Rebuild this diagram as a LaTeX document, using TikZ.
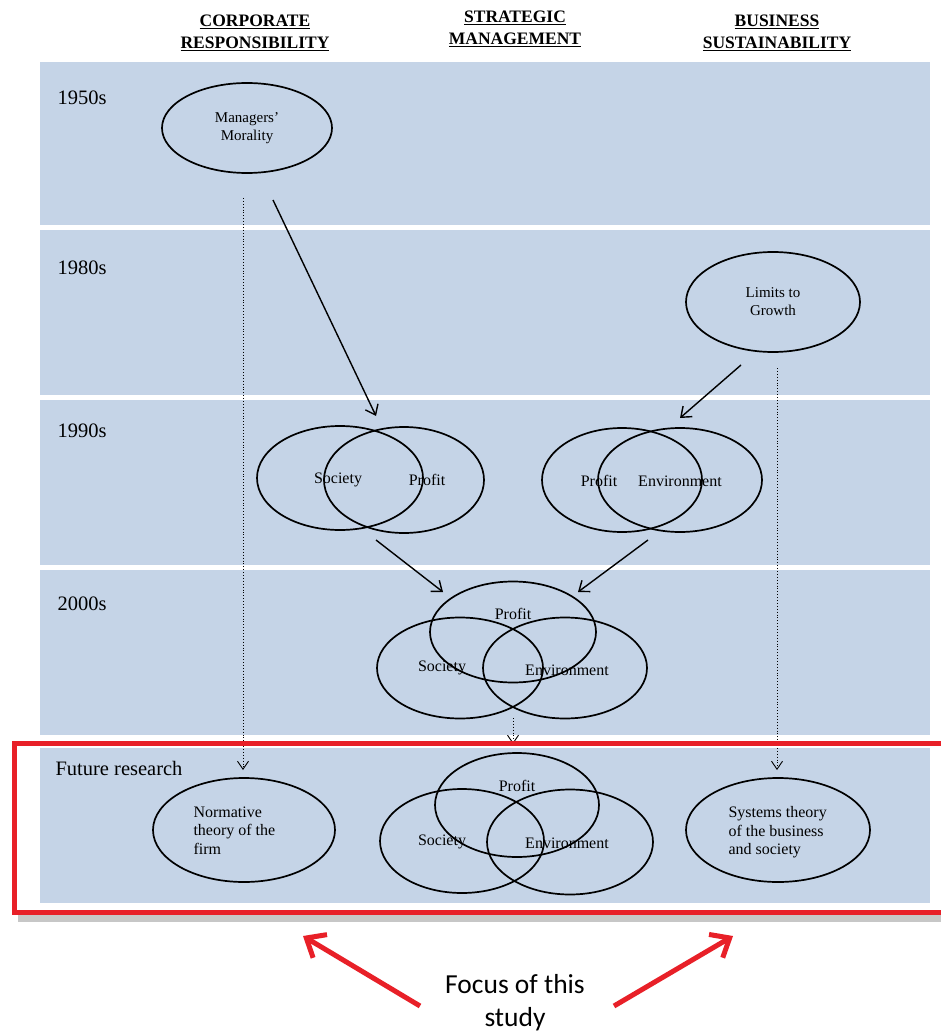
\documentclass[tikz,border=0pt]{standalone}
\usepackage{fontspec}
\setmainfont{Liberation Serif}
\newfontfamily\notefont{Carlito}
\usetikzlibrary{shapes.geometric,arrows.meta}
\definecolor{band}{RGB}{197,212,231}
\definecolor{focusred}{RGB}{232,32,40}
\begin{document}
\begin{tikzpicture}[x=1pt,y=-1pt,
  bandbox/.style={fill=band,draw=none},
  oval/.style={ellipse,draw=black,line width=1.7pt,inner sep=0pt},
  era/.style={anchor=west,font=\fontsize{20.5}{22}\selectfont},
  head/.style={align=center,font=\bfseries\fontsize{17.5}{22}\selectfont},
  lbl/.style={font=\fontsize{16}{18}\selectfont},
  note/.style={align=left,font=\fontsize{16}{18.5}\selectfont},
  flow/.style={line width=1.4pt,-{Straight Barb[length=9pt,width=14pt]}},
  trace/.style={line width=0.9pt,dotted,-{Straight Barb[length=8pt,width=11pt,line width=0.9pt]}},
  focus/.style={draw=focusred,line width=5pt,-{Straight Barb[length=16pt,width=27pt,line width=5pt]}}
]
\useasboundingbox (0,0) rectangle (941,1032);
\fill[white] (0,0) rectangle (941,1032);

% column headings
\node[head] (hcr) at (255,33) {\underline{CORPORATE}\\\underline{RESPONSIBILITY}};
\node[head] (hsm) at (515,29) {\underline{STRATEGIC}\\\underline{MANAGEMENT}};
\node[head] (hbs) at (777,33) {\underline{BUSINESS}\\\underline{SUSTAINABILITY}};

% shadow under the highlight frame
\fill[black!22] (18,912) rectangle (941,922);

% decade bands
\fill[bandbox] (40,62) rectangle (930,225);
\fill[bandbox] (40,230) rectangle (930,395);
\fill[bandbox] (40,400) rectangle (930,565);
\fill[bandbox] (40,570) rectangle (930,735);
\fill[bandbox] (40,748) rectangle (930,903);

\node[era] (e50) at (54,98) {1950s};
\node[era] (e80) at (54,268) {1980s};
\node[era] (e90) at (54,431) {1990s};
\node[era] (e00) at (54,604) {2000s};
\node[era] (efr) at (52,768) {Future research};

% 1950s / 1980s
\node[oval,minimum width=170pt,minimum height=90pt,align=center,font=\fontsize{15}{18}\selectfont] (mm) at (247,128) {Managers'\\Morality};
\node[oval,minimum width=174pt,minimum height=100pt,align=center,font=\fontsize{15}{18}\selectfont] (lg) at (773,302) {Limits to\\Growth};

% 1990s pairs
\node[oval,minimum width=166pt,minimum height=104pt] (sp1) at (340,478) {};
\node[oval,minimum width=160pt,minimum height=106pt] (sp2) at (404,480) {};
\node[lbl] (tsoc1) at (338,480) {Society};
\node[lbl] (tpro1) at (427,480) {Profit};

\node[oval,minimum width=160pt,minimum height=104pt] (pe1) at (622,480) {};
\node[oval,minimum width=164pt,minimum height=104pt] (pe2) at (680,480) {};
\node[lbl] (tpro2) at (599,481) {Profit};
\node[lbl] (tenv2) at (680,481) {Environment};

% 2000s triple
\node[oval,minimum width=166pt,minimum height=101pt] (tp) at (513,632) {};
\node[oval,minimum width=166pt,minimum height=101pt] (ts) at (460,668) {};
\node[oval,minimum width=164pt,minimum height=101pt] (te) at (565,668) {};
\node[lbl] (tpro3) at (513,614) {Profit};
\node[lbl] (tsoc3) at (442,668) {Society};
\node[lbl] (tenv3) at (567,670) {Environment};

% future research
\node[oval,minimum width=182pt,minimum height=104pt] (nt) at (244,830) {};
\node[note,anchor=north west] (ntt) at (190,803) {Normative\\theory of the\\firm};
\node[oval,minimum width=184pt,minimum height=104pt] (st) at (778,830) {};
\node[note,anchor=north west] (stt) at (725,803) {Systems theory\\of the business\\and society};

\node[oval,minimum width=164pt,minimum height=104pt] (fp) at (517,805) {};
\node[oval,minimum width=164pt,minimum height=104pt] (fs) at (462,841) {};
\node[oval,minimum width=166pt,minimum height=105pt] (fe) at (570,842) {};
\node[lbl] (tpro4) at (517,786) {Profit};
\node[lbl] (tsoc4) at (442,842) {Society};
\node[lbl] (tenv4) at (567,843) {Environment};

% connectors
\coordinate (a1) at (273,200);
\coordinate (a1e) at (376,416);
\coordinate (a2) at (741,365);
\coordinate (a2e) at (680,418);
\coordinate (a3) at (376,540);
\coordinate (a3e) at (443,592);
\coordinate (a4) at (648,540);
\coordinate (a4e) at (578,592);
\draw[flow] (a1) -- (a1e);
\draw[flow] (a2) -- (a2e);
\draw[flow] (a3) -- (a3e);
\draw[flow] (a4) -- (a4e);

\coordinate (d1) at (243,198);
\coordinate (d1e) at (243,770);
\coordinate (d2) at (777,368);
\coordinate (d2e) at (777,770);
\coordinate (d3) at (513,718);
\coordinate (d3e) at (513,744);
\draw[trace] (d1) -- (d1e);
\draw[trace] (d2) -- (d2e);
\draw[trace] (d3) -- (d3e);

% highlight frame
\draw[focusred,line width=5pt] (14,743) rectangle (950,912);

% call-out
\node[align=center,font=\notefont\fontsize{27.5}{33}\selectfont] (fc) at (515,1003) {Focus of this\\study};
\coordinate (f1) at (420,1006);
\coordinate (f1e) at (303,936);
\coordinate (f2) at (614,1006);
\coordinate (f2e) at (733,936);
\draw[focus] (f1) -- (f1e);
\draw[focus] (f2) -- (f2e);
\end{tikzpicture}
\end{document}
